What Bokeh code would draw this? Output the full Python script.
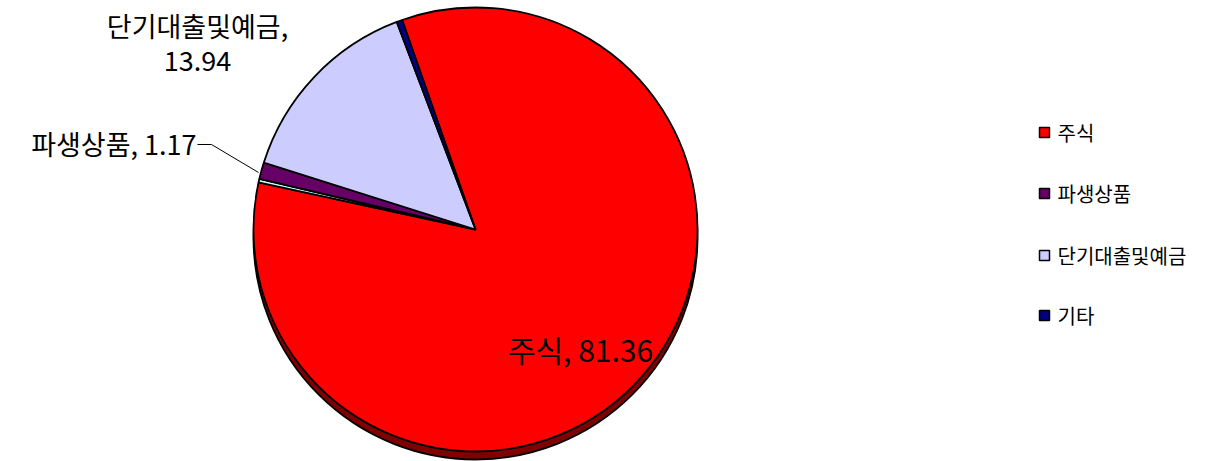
from math import radians
from bokeh.plotting import figure
from bokeh.models import Range1d
from bokeh.core.properties import value
from bokeh.embed import file_html
from bokeh.resources import INLINE

# ---- data ----
categories = ["주식", "파생상품", "단기대출및예금", "기타"]
values = [81.36, 1.17, 13.94, 0.40]
colors = ["#FF0000", "#660066", "#CCCCFF", "#000080"]
# a very thin unlabeled slice sits between 주식 and 파생상품
gap_value = 0.25
gap_color = "#CCFFFF"

FONT = "Noto Sans CJK KR"
W, H = 1208, 461

p = figure(width=W, height=H, output_backend="svg", toolbar_location=None,
           x_range=Range1d(0, W), y_range=Range1d(0, H),
           min_border=0, outline_line_color=None)
p.axis.visible = False
p.grid.visible = False
p.background_fill_color = "white"
p.border_fill_color = "white"

def Y(y):
    return H - y

cx, cy, r = 475, Y(229), 222
start_deg = 109.3

slice_vals = [values[0], gap_value] + values[1:]
slice_cols = [colors[0], gap_color] + colors[1:]
total = sum(slice_vals)

# shadow (3D base)
p.circle(x=[cx], y=[cy - 8], radius=r, fill_color="#800000",
         line_color="black", line_width=1.8)

cum = 0.0
starts, ends = [], []
for v in slice_vals:
    a_end = start_deg - cum / total * 360.0
    cum += v
    a_start = start_deg - cum / total * 360.0
    starts.append(radians(a_start))
    ends.append(radians(a_end))

p.wedge(x=[cx] * len(slice_vals), y=[cy] * len(slice_vals), radius=r,
        start_angle=starts, end_angle=ends, direction="anticlock",
        fill_color=slice_cols, line_color="black", line_width=1.8)

# data labels
p.text(x=[580], y=[Y(348)], text=[f"{categories[0]}, {values[0]:.2f}"],
       text_font=value(FONT), text_font_size="30px", text_color="black",
       text_align="center", text_baseline="middle")
p.text(x=[197, 197], y=[Y(25), Y(60)],
       text=[f"{categories[2]},", f"{values[2]:.2f}"],
       text_font=value(FONT), text_font_size="27px", text_color="black",
       text_align="center", text_baseline="middle")
p.text(x=[196], y=[Y(143)], text=[f"{categories[1]}, {values[1]:.2f}"],
       text_font=value(FONT), text_font_size="27px", text_color="black",
       text_align="right", text_baseline="middle")
# leader line
p.line(x=[197, 211, 258], y=[Y(144), Y(144), Y(172)], line_color="black", line_width=1)

# legend
leg_y = [Y(132), Y(193), Y(255), Y(315)]
p.scatter(x=[1044] * 4, y=leg_y, marker="square", size=10,
          fill_color=colors, line_color="black", line_width=1.5)
p.text(x=[1057] * 4, y=leg_y, text=categories, text_font=value(FONT),
       text_font_size="20px", text_color="black", text_align="left",
       text_baseline="middle")

open("out.html", "w").write(file_html(p, INLINE))
